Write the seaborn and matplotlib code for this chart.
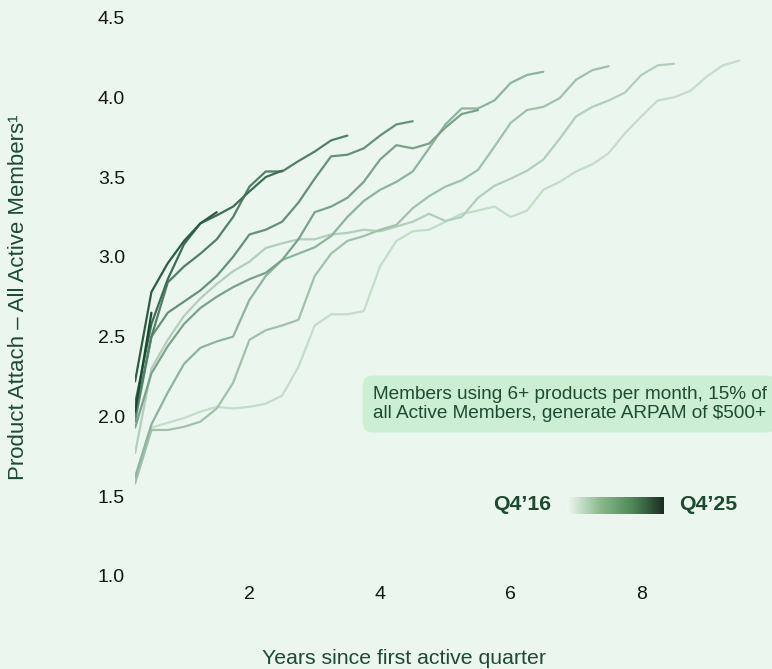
import numpy as np
import pandas as pd
import matplotlib
matplotlib.use("Agg")
import matplotlib.pyplot as plt
from matplotlib.colors import LinearSegmentedColormap
import seaborn as sns

# ---------------- data (product attach by cohort, one value per quarter since first active) ----
cohorts = ["Q4'16", "Q4'17", "Q4'18", "Q4'19", "Q4'20", "Q4'21", "Q4'22", "Q4'23", "Q4'24", "Q4'25"]

q4_16 = [1.60, 1.93, 1.96, 1.99, 2.03, 2.06, 2.05, 2.06, 2.08, 2.13, 2.31, 2.57, 2.64, 2.64, 2.66, 2.94,
         3.10, 3.16, 3.17, 3.22, 3.27, 3.29, 3.315, 3.25, 3.29, 3.42, 3.47, 3.535, 3.58, 3.65, 3.775,
         3.88, 3.98, 4.00, 4.04, 4.13, 4.20, 4.23]
q4_17 = [1.77, 2.30, 2.48, 2.63, 2.74, 2.83, 2.91, 2.97, 3.055, 3.085, 3.11, 3.11, 3.14, 3.15, 3.17, 3.16,
         3.19, 3.22, 3.27, 3.225, 3.25, 3.37, 3.445, 3.49, 3.54, 3.61, 3.74, 3.88, 3.94, 3.98, 4.03,
         4.14, 4.20, 4.21]
q4_18 = [1.58, 1.915, 1.915, 1.935, 1.967, 2.05, 2.21, 2.48, 2.54, 2.57, 2.605, 2.88, 3.02, 3.10, 3.13,
         3.17, 3.20, 3.305, 3.38, 3.44, 3.48, 3.545, 3.69, 3.84, 3.92, 3.94, 3.995, 4.11, 4.17, 4.195]
q4_19 = [1.62, 1.95, 2.15, 2.33, 2.43, 2.47, 2.50, 2.73, 2.88, 2.98, 3.02, 3.06, 3.13, 3.25, 3.35, 3.42,
         3.47, 3.535, 3.68, 3.83, 3.93, 3.93, 3.98, 4.09, 4.14, 4.16]
q4_20 = [1.93, 2.27, 2.44, 2.58, 2.68, 2.75, 2.81, 2.86, 2.90, 2.98, 3.11, 3.28, 3.315, 3.37, 3.47, 3.61,
         3.70, 3.68, 3.71, 3.81, 3.895, 3.92]
q4_21 = [1.97, 2.50, 2.65, 2.72, 2.79, 2.88, 3.00, 3.14, 3.17, 3.22, 3.34, 3.49, 3.63, 3.64, 3.68, 3.76,
         3.83, 3.85]
q4_22 = [2.00, 2.50, 2.84, 2.94, 3.02, 3.11, 3.25, 3.44, 3.535, 3.535, 3.60, 3.66, 3.73, 3.76]
q4_23 = [2.08, 2.58, 2.86, 3.08, 3.21, 3.26, 3.315, 3.41, 3.50, 3.54]
q4_24 = [2.22, 2.78, 2.96, 3.10, 3.21, 3.28]
q4_25 = [2.03, 2.65]

series = [q4_16, q4_17, q4_18, q4_19, q4_20, q4_21, q4_22, q4_23, q4_24, q4_25]

x_ticks = [2, 4, 6, 8]
y_ticks = [1.0, 1.5, 2.0, 2.5, 3.0, 3.5, 4.0, 4.5]

rows = []
for name, vals in zip(cohorts, series):
    for i, v in enumerate(vals):
        rows.append({"cohort": name, "years": (i + 1) * 0.25, "value": v})
df = pd.DataFrame(rows)

# ---------------- style ----------------
sns.set_theme(style="white")
plt.rcParams["font.family"] = ["Liberation Sans", "DejaVu Sans"]

BG = "#ebf7ee"
DARK = "#1d4a33"

W, H = 772, 669
fig = plt.figure(figsize=(W / 100, H / 100), dpi=100)
fig.patch.set_facecolor(BG)

ax_left, ax_right, ax_top, ax_bottom = 135.1, 772.0, 17.5, 576.0
ax = fig.add_axes([ax_left / W, 1 - ax_bottom / H, (ax_right - ax_left) / W, (ax_bottom - ax_top) / H])
ax.set_facecolor(BG)

line_cmap = LinearSegmentedColormap.from_list("lines", ["#c5dcc9", "#8fb39b", "#527f65", "#1b4a31"])
palette = [line_cmap(t) for t in np.linspace(0, 1, len(cohorts))]

sns.lineplot(data=df, x="years", y="value", hue="cohort", hue_order=cohorts, palette=palette,
             estimator=None, sort=False, legend=False, linewidth=1.6, ax=ax)

ax.set_xlim(0.25, 10.0)
ax.set_ylim(1.0, 4.5)
ax.set_xticks(x_ticks)
ax.set_xticklabels([str(t) for t in x_ticks])
ax.set_yticks(y_ticks)
ax.set_yticklabels([f"{t:.1f}" for t in y_ticks])
ax.tick_params(axis="both", length=0, labelsize=14, labelcolor="#151515")
ax.tick_params(axis="y", pad=7.2)
ax.tick_params(axis="x", pad=7.5)
for s in ax.spines.values():
    s.set_visible(False)
ax.set_xlabel("")
ax.set_ylabel("")
ax.grid(False)

# axis titles
fig.text(403.5 / W, 1 - 659 / H, "Years since first active quarter", ha="center", va="center",
         fontsize=15.3, color=DARK)
fig.text(19 / W, 1 - 297 / H, "Product Attach \u2013 All Active Members\u00b9", ha="center", va="center",
         rotation=90, fontsize=16, color=DARK)

# annotation box
fig.text(570 / W, 1 - 404 / H,
         "Members using 6+ products per month, 15% of\nall Active Members, generate ARPAM of $500+",
         ha="center", va="center", multialignment="center", fontsize=13.7, color=DARK, linespacing=1.15,
         bbox=dict(boxstyle="round,pad=0.55", fc="#ccefd3", ec="none"))

# gradient legend
fig.text(551 / W, 1 - 504 / H, "Q4\u201916", ha="right", va="center", fontsize=15.3,
         fontweight="bold", color="#1b4a2e")
fig.text(679 / W, 1 - 504 / H, "Q4\u201925", ha="left", va="center", fontsize=15.3,
         fontweight="bold", color="#1b4a2e")
cax = fig.add_axes([566.7 / W, 1 - 514 / H, (663.3 - 566.7) / W, (514 - 496.7) / H])
grad_cmap = LinearSegmentedColormap.from_list("grad", ["#f2f8f2", "#8cbb8e", "#4f8a58", "#1a2e22"])
cax.imshow(np.linspace(0, 1, 256)[None, :], aspect="auto", cmap=grad_cmap)
cax.set_axis_off()

fig.savefig("out.png", dpi=100, facecolor=BG)
